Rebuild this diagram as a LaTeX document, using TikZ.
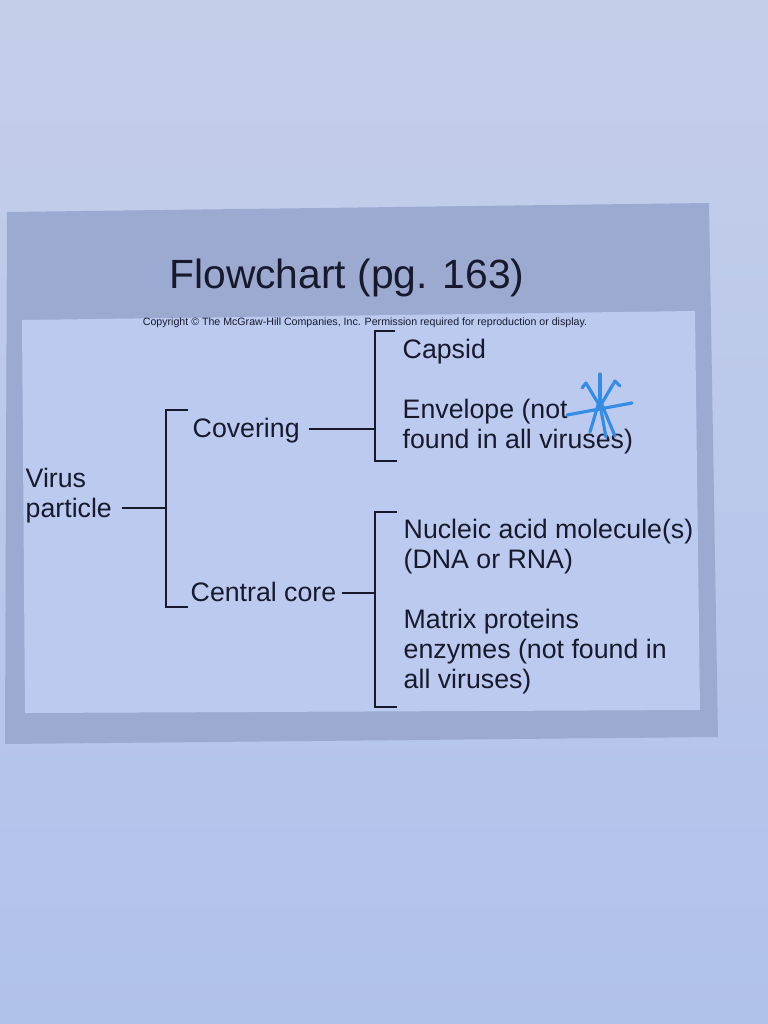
\documentclass[tikz,border=0pt]{standalone}
\usepackage{fontspec}
\setmainfont{Liberation Sans}
\usetikzlibrary{calc}
\definecolor{paperTop}{RGB}{197,206,233}
\definecolor{paperBot}{RGB}{176,193,236}
\definecolor{slideFrame}{RGB}{156,169,208}
\definecolor{slidePanel}{RGB}{188,202,240}
\definecolor{ink}{RGB}{22,26,44}
\definecolor{penBlue}{RGB}{52,140,228}
\tikzset{
  lbl/.style={anchor=base west, inner sep=0pt, text=ink, align=left,
    font=\fontsize{7.6}{8.4}\selectfont},
  ttl/.style={anchor=base, inner sep=0pt, text=ink, font=\fontsize{11.6}{13}\selectfont},
  cpr/.style={anchor=base, inner sep=0pt, text=ink, font=\fontsize{3.02}{3.2}\selectfont},
  wire/.style={draw=ink, line width=0.45pt},
  pen/.style={draw=penBlue, line width=0.9pt, line cap=round},
}

\begin{document}
\begin{tikzpicture}[x=0.01cm,y=-0.01cm]
		%%%%% PAGE %%%%%
		\useasboundingbox (0,0) rectangle (768,1024);
		\shade[top color=paperTop, bottom color=paperBot] (0,0) rectangle (768,1024);
		\fill[slideFrame] (7,212) -- (709,203) -- (718,737) -- (5,744) -- cycle;
		\fill[slidePanel] (22,320) -- (695,311) -- (700,710) -- (25,713) -- cycle;
		
		%%%%% TEXT %%%%%
		\node[ttl] (title) at (347,288) {Flowchart (pg. 163)};
		\node[cpr] (copyr) at (365,325) {Copyright © The McGraw-Hill Companies, Inc. Permission required for reproduction or display.};
		
		% base of a two-line label is its last line
		\node[lbl] (virus) at (25,517) {Virus\\particle};
		\node[lbl] (cover) at (192,437) {Covering};
		\node[lbl] (core) at (190,601) {Central core};
		\node[lbl] (capsid) at (402,358) {Capsid};
		\node[lbl] (envel) at (402,448) {Envelope (not\\found in all viruses)};
		\node[lbl] (nucl) at (403,568) {Nucleic acid molecule(s)\\(DNA or RNA)};
		\node[lbl] (matrix) at (403,688) {Matrix proteins\\enzymes (not found in\\all viruses)};
		
		%%%%% BRACKETS %%%%%
		\coordinate (b1) at (166,508);
		\coordinate (b2) at (375,429);
		\coordinate (b3) at (375,593);
		\draw[wire] (188,410) -- (166,410) -- (166,607) -- (188,607);
		\draw[wire] (395,331) -- (375,331) -- (375,461) -- (397,461);
		\draw[wire] (397,512) -- (375,512) -- (375,707) -- (397,707);
		
		\draw[wire, shorten <=2.6pt] (virus.east |- b1) -- (b1);
		\draw[wire, shorten <=2.4pt] (cover.east |- b2) -- (b2);
		\draw[wire, shorten <=1.4pt] (core.east |- b3) -- (b3);
		
		%%%%% PEN MARK %%%%%
		\draw[pen] (567,415) -- (632,403);
		\draw[pen] (600,374) -- (600,406);
		\draw[pen] (586,383) -- (598,403);
		\draw[pen] (615,381) -- (602,403);
		\draw[pen] (598,405) -- (590,432);
		\draw[pen] (602,405) -- (615,436);
		\draw[pen] (600,405) -- (606,437);
		\draw[pen] (586,383) -- (582,388);
		\draw[pen] (615,381) -- (620,386);
\end{tikzpicture}
\end{document}
